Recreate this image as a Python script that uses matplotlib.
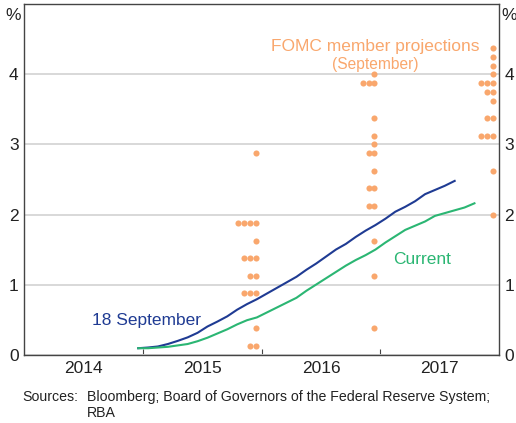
import numpy as np
import matplotlib.pyplot as plt

plt.rcParams['font.family'] = ['Liberation Sans', 'DejaVu Sans']

# Market-implied path (monthly, starting mid-Dec 2014)
start = 2014.96
sept18 = [0.09, 0.10, 0.115, 0.15, 0.195, 0.245, 0.31, 0.40, 0.47, 0.545, 0.64,
          0.72, 0.79, 0.87, 0.95, 1.03, 1.11, 1.21, 1.30, 1.40, 1.50, 1.58, 1.68,
          1.77, 1.85, 1.94, 2.04, 2.11, 2.19, 2.29, 2.35, 2.41, 2.48]
current = [0.09, 0.09, 0.10, 0.11, 0.13, 0.15, 0.19, 0.24, 0.30, 0.36, 0.43,
           0.49, 0.53, 0.60, 0.67, 0.74, 0.81, 0.91, 1.00, 1.09, 1.18, 1.27, 1.35,
           1.42, 1.50, 1.60, 1.69, 1.78, 1.84, 1.90, 1.98, 2.02, 2.06, 2.10, 2.16]

# FOMC member projections (September), end of year
proj_dates = [2015.95, 2016.95, 2017.95]
proj_2015 = [2.875] + [1.875] * 4 + [1.625] + [1.375] * 3 + [1.125] * 2 + \
            [0.875] * 3 + [0.375] + [0.125] * 2
proj_2016 = [4.0] + [3.875] * 3 + [3.375, 3.125, 3.0] + [2.875] * 2 + [2.625] + \
            [2.375] * 2 + [2.125] * 2 + [1.625, 1.125, 0.375]
proj_2017 = [4.375, 4.25, 4.125, 4.0] + [3.875] * 3 + [3.75] * 2 + [3.625] + \
            [3.375] * 2 + [3.125] * 3 + [2.625, 2.0]

years = [2014, 2015, 2016, 2017]

navy = '#1f3b93'
green = '#2bb673'
orange = '#f9a76d'

fig = plt.figure(figsize=(5.16, 4.23), dpi=100)
ax = fig.add_axes([0.0471, 0.1619, 0.9199, 0.8275])

t1 = start + np.arange(len(sept18)) / 12
t2 = start + np.arange(len(current)) / 12
ax.plot(t1, sept18, color=navy, lw=1.5, zorder=3)
ax.plot(t2, current, color=green, lw=1.5, zorder=3)

# dots: equal values sit side by side, leftwards from the date
step = 0.049
for d, vals in zip(proj_dates, [proj_2015, proj_2016, proj_2017]):
    u, c = np.unique(vals, return_counts=True)
    for v, n in zip(u, c):
        xs = d - step * np.arange(n)
        ax.plot(xs, [v] * n, 'o', ms=4.4, color=orange, mec='none', zorder=4)

ax.set_xlim(2014, 2018)
ax.set_ylim(0, 5)
ax.set_yticks([0, 1, 2, 3, 4])
ax.grid(axis='y', color='#d6d6d6', lw=1.3)
ax.set_axisbelow(True)
ax.set_xticks([2015, 2016, 2017])
ax.set_xticklabels([])
ax.set_xticks([y + 0.5 for y in years], [str(y) for y in years], minor=True)
ax.tick_params(axis='x', which='major', direction='in', length=4.5, color='#444')
ax.tick_params(axis='x', which='minor', length=0, pad=5, labelsize=12.5, labelcolor='#222')
ax.tick_params(axis='y', length=0, pad=4, labelsize=12.5, labelcolor='#222',
               labelleft=True, labelright=True)
for s in ax.spines.values():
    s.set_color('#444')
    s.set_linewidth(1.0)

fig.text(13 / 516, 1 - 16 / 423, '%', ha='center', va='center', fontsize=12.5, color='#222')
fig.text(509 / 516, 1 - 16 / 423, '%', ha='center', va='center', fontsize=12.5, color='#222')

ax.text(92 / 516, 1 - 320 / 423, '18 September', transform=fig.transFigure,
        color=navy, fontsize=12.5, va='center', ha='left')
ax.text(393 / 516, 1 - 259 / 423, 'Current', transform=fig.transFigure,
        color=green, fontsize=12.5, va='center', ha='left')
ax.text(375 / 516, 1 - 46.5 / 423, 'FOMC member projections', transform=fig.transFigure,
        color=orange, fontsize=12.5, va='center', ha='center')
ax.text(375 / 516, 1 - 64 / 423, '(September)', transform=fig.transFigure,
        color=orange, fontsize=11.2, va='center', ha='center')

fig.text(22 / 516, 1 - 397 / 423, 'Sources:', fontsize=10.2, va='center', color='#222')
fig.text(87 / 516, 1 - 397 / 423, 'Bloomberg; Board of Governors of the Federal Reserve System;',
         fontsize=10.2, va='center', color='#222')
fig.text(87 / 516, 1 - 413 / 423, 'RBA', fontsize=10.2, va='center', color='#222')

fig.savefig('out.png', dpi=100)
